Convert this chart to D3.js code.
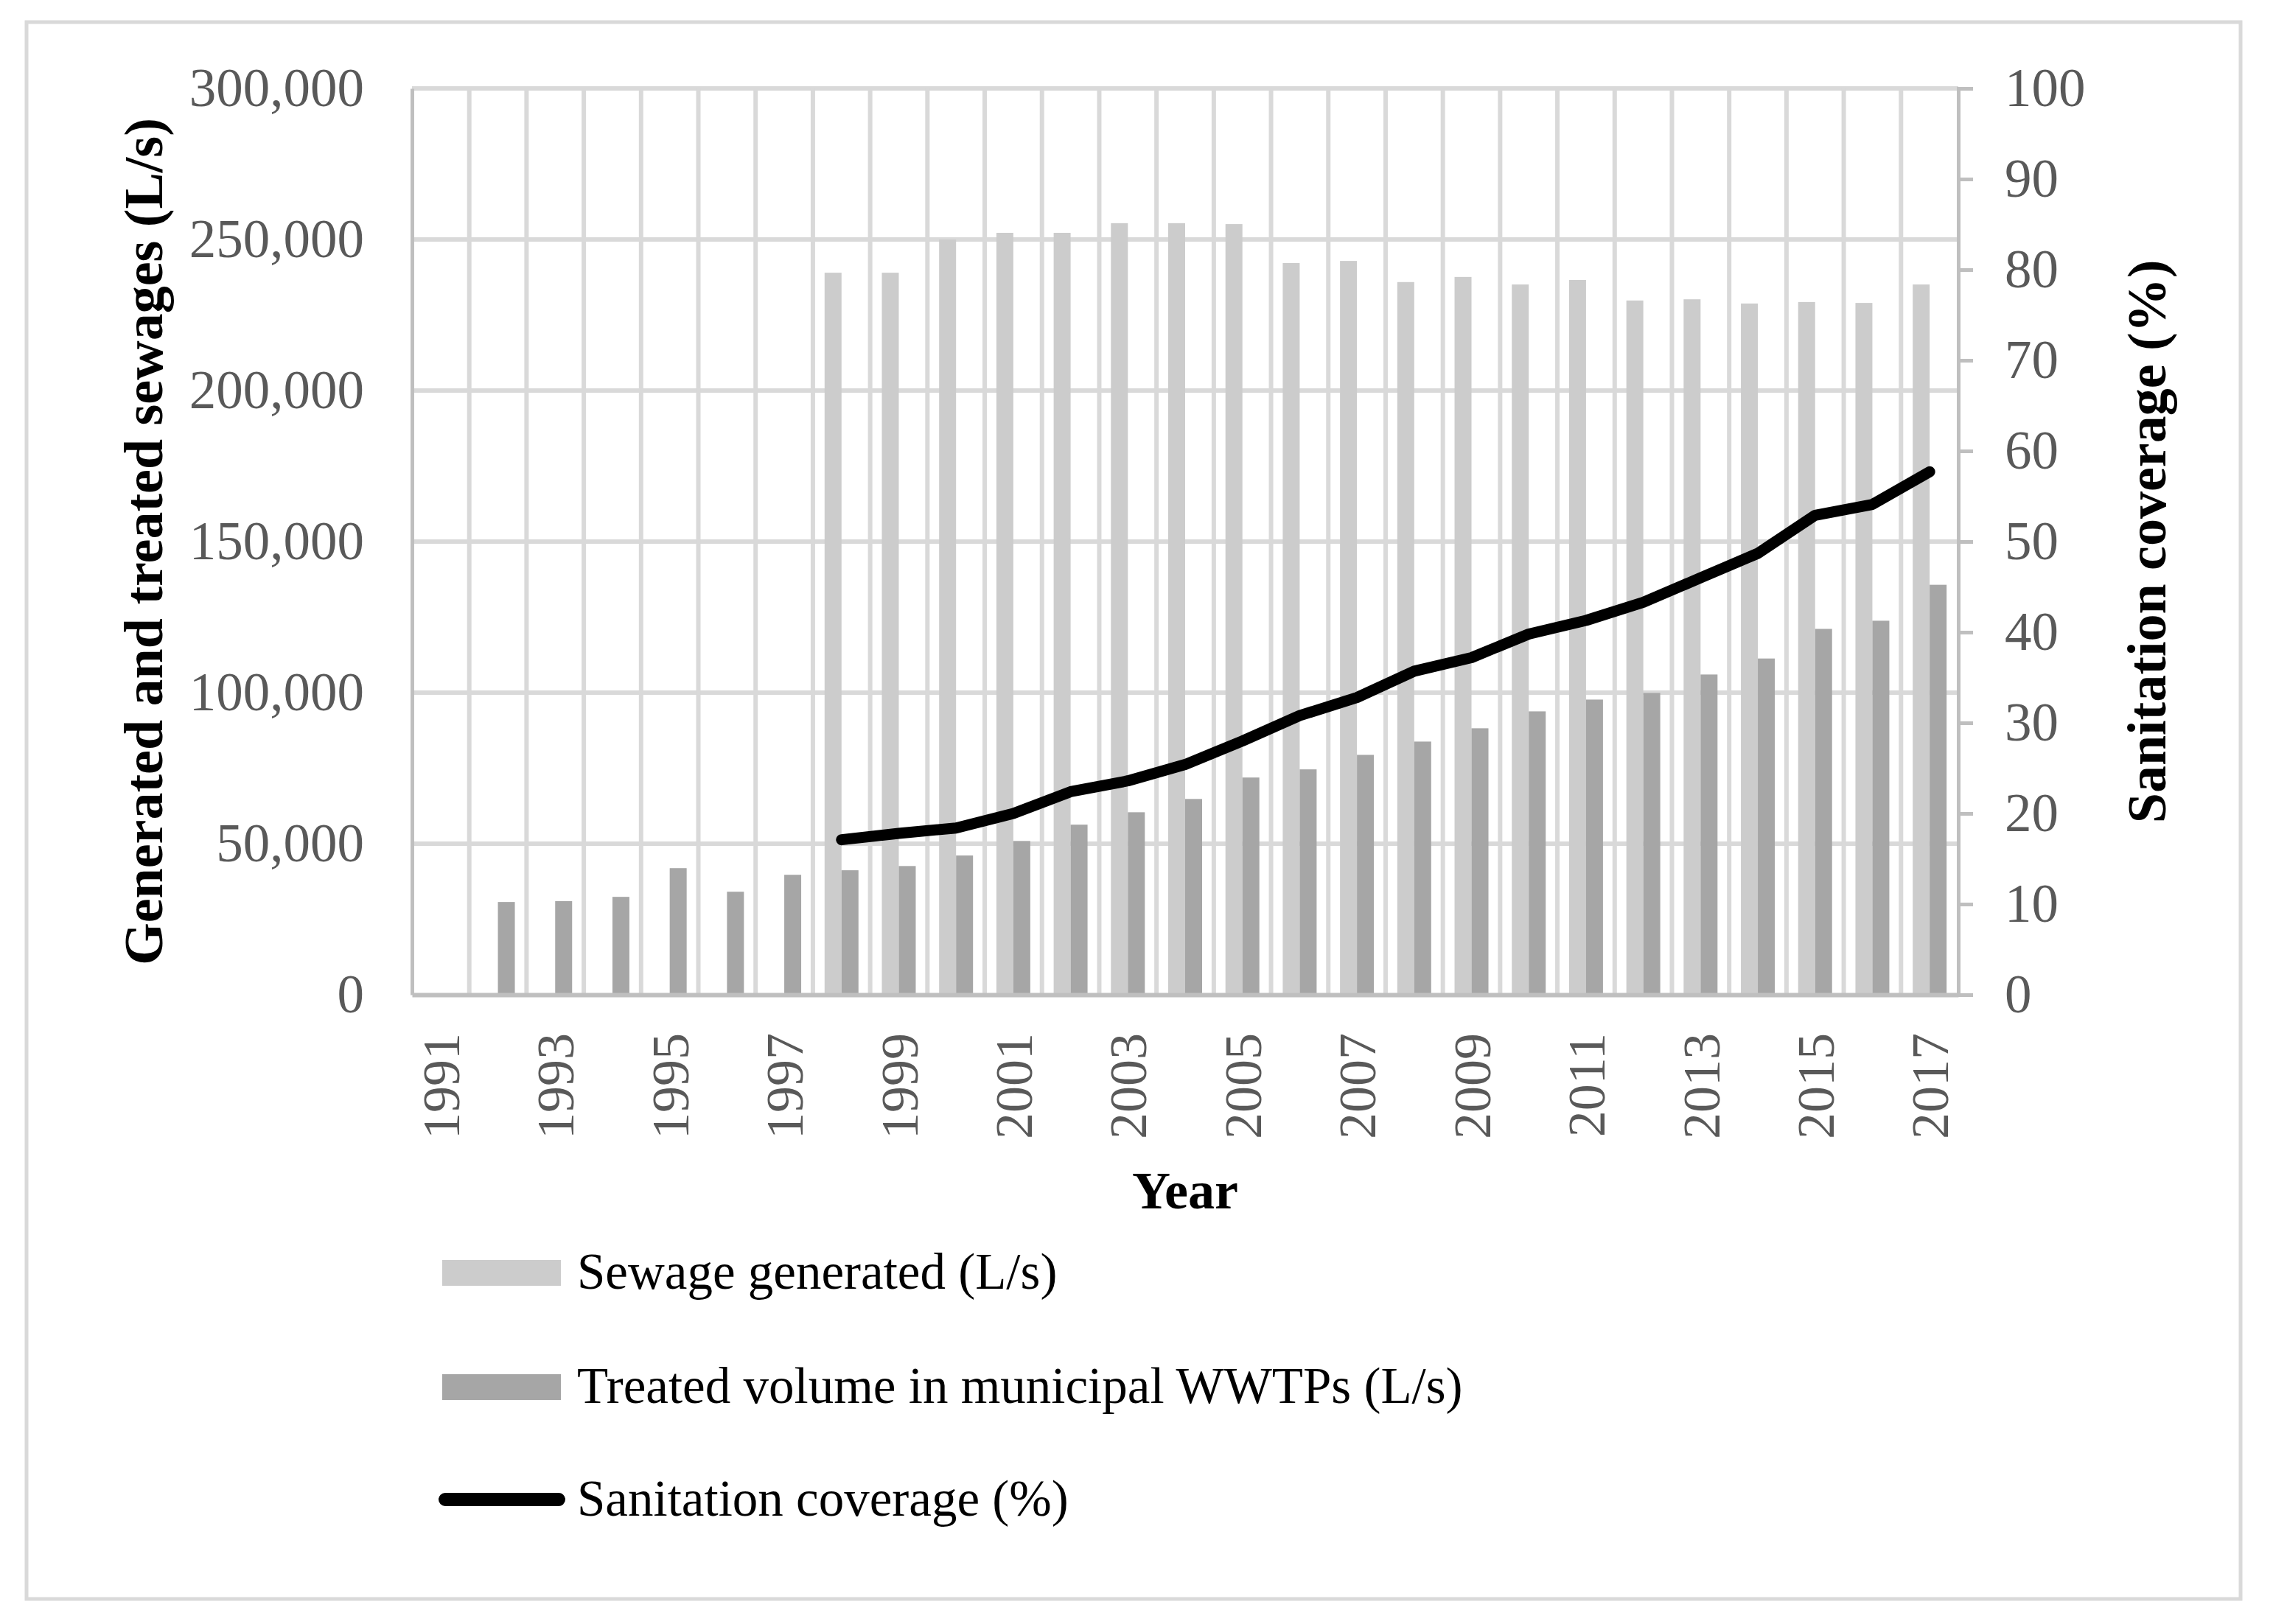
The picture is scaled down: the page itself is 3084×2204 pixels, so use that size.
<!DOCTYPE html>
<html>
<head>
<meta charset="utf-8">
<script src="https://cdn.jsdelivr.net/npm/d3@7"></script>
<style>
  body { margin: 0; background: #fff; }
  svg { display: block; }
  text { font-family: "Liberation Serif", "Times New Roman", serif; }
</style>
</head>
<body>
<div id="chart"></div>
<script>
// data
const years = ['1991', '1992', '1993', '1994', '1995', '1996', '1997', '1998', '1999', '2000',
  '2001', '2002', '2003', '2004', '2005', '2006', '2007', '2008', '2009', '2010',
  '2011', '2012', '2013', '2014', '2015', '2016', '2017'];
const sewageGenerated = [null, null, null, null, null, null, null, 239000, 239000, 250000,
  252200, 252200, 255400, 255400, 255100, 242200, 242900, 235900, 237600, 235100,
  236600, 229800, 230200, 228800, 229300, 229000, 235100];
const treatedVolume = [null, 30700, 31000, 32400, 41900, 34100, 39700, 41200, 42600, 46100,
  50900, 56300, 60400, 64800, 71900, 74600, 79400, 83800, 88200, 93800,
  97700, 99900, 106000, 111300, 121100, 123800, 135700];
const sanitationCoverage = [null, null, null, null, null, null, null, 17.1, 17.8, 18.4,
  20.0, 22.4, 23.6, 25.4, 28.0, 30.8, 32.8, 35.7, 37.2, 39.8,
  41.3, 43.3, 46.0, 48.7, 52.9, 54.1, 57.7];
const leftTicks = [0, 50000, 100000, 150000, 200000, 250000, 300000];
const rightTicks = [0, 10, 20, 30, 40, 50, 60, 70, 80, 90, 100];
const yearLabels = ['1991', '1993', '1995', '1997', '1999', '2001', '2003', '2005', '2007',
  '2009', '2011', '2013', '2015', '2017'];
const seriesNames = ['Sewage generated (L/s)', 'Treated volume in municipal WWTPs (L/s)', 'Sanitation coverage (%)'];

const width = 3084;
const height = 2204;
const plot = { left: 559, right: 2657, top: 120, bottom: 1350 };
const gridColor = '#d9d9d9';
const axisColor = '#bfbfbf';
const labelColor = '#595959';
const barColors = ['#cccccc', '#a6a6a6'];

const svg = d3.select('#chart')
  .append('svg')
  .attr('width', width)
  .attr('height', height);

// outer frame
svg.append('rect')
  .attr('x', 36).attr('y', 30)
  .attr('width', 3004).attr('height', 2140)
  .attr('fill', '#fff')
  .attr('stroke', gridColor)
  .attr('stroke-width', 5);

const x = d3.scaleBand()
  .domain(years)
  .range([plot.left, plot.right])
  .padding(0);
const inner = d3.scaleBand()
  .domain(['gen', 'treated'])
  .range([0, x.bandwidth()])
  .paddingInner(0)
  .paddingOuter(0.69);
const y = d3.scaleLinear()
  .domain([0, 300000])
  .range([plot.bottom, plot.top]);
const y2 = d3.scaleLinear()
  .domain([0, 100])
  .range([plot.bottom, plot.top]);

// gridlines
svg.append('g')
  .selectAll('line')
  .data(leftTicks.filter(d => d > 0))
  .enter()
  .append('line')
  .attr('x1', plot.left).attr('x2', plot.right)
  .attr('y1', d => y(d)).attr('y2', d => y(d))
  .attr('stroke', gridColor)
  .attr('stroke-width', 6);
svg.append('g')
  .selectAll('line')
  .data(years.slice(1))
  .enter()
  .append('line')
  .attr('x1', d => x(d)).attr('x2', d => x(d))
  .attr('y1', plot.top).attr('y2', plot.bottom)
  .attr('stroke', gridColor)
  .attr('stroke-width', 6);

// bars
const bars = svg.append('g');
bars.selectAll('.gen')
  .data(years.map((yr, i) => ({ yr, v: sewageGenerated[i] })).filter(d => d.v != null))
  .enter()
  .append('rect')
  .classed('gen', true)
  .attr('x', d => x(d.yr) + inner('gen'))
  .attr('width', inner.bandwidth())
  .attr('y', d => y(d.v))
  .attr('height', d => plot.bottom - y(d.v))
  .attr('fill', barColors[0]);
bars.selectAll('.treated')
  .data(years.map((yr, i) => ({ yr, v: treatedVolume[i] })).filter(d => d.v != null))
  .enter()
  .append('rect')
  .classed('treated', true)
  .attr('x', d => x(d.yr) + inner('treated'))
  .attr('width', inner.bandwidth())
  .attr('y', d => y(d.v))
  .attr('height', d => plot.bottom - y(d.v))
  .attr('fill', barColors[1]);

// left axis
const leftAxis = svg.append('g')
  .attr('transform', `translate(${plot.left},0)`)
  .call(d3.axisLeft(y).tickValues(leftTicks).tickSize(0).tickPadding(65).tickFormat(d3.format(',')));
leftAxis.select('.domain').attr('stroke', axisColor).attr('stroke-width', 5);
leftAxis.selectAll('text')
  .attr('fill', labelColor)
  .style('font-size', '73px');

// right axis
const rightAxis = svg.append('g')
  .attr('transform', `translate(${plot.right},0)`)
  .call(d3.axisRight(y2).tickValues(rightTicks).tickSize(20).tickPadding(43));
rightAxis.select('.domain').attr('stroke', axisColor).attr('stroke-width', 5);
rightAxis.selectAll('line').attr('stroke', axisColor).attr('stroke-width', 5);
rightAxis.selectAll('text')
  .attr('fill', labelColor)
  .style('font-size', '73px');

// bottom axis
const bottomAxis = svg.append('g')
  .attr('transform', `translate(0,${plot.bottom})`)
  .call(d3.axisBottom(x).tickValues(yearLabels).tickSize(0).tickSizeOuter(0));
bottomAxis.select('.domain').attr('stroke', axisColor).attr('stroke-width', 6);
bottomAxis.selectAll('text')
  .attr('transform', 'rotate(-90)')
  .attr('x', -52)
  .attr('y', 0)
  .attr('dy', '0.35em')
  .attr('text-anchor', 'end')
  .attr('fill', labelColor)
  .style('font-size', '72px');

// coverage line
const line = d3.line()
  .defined(d => d != null)
  .x((d, i) => x(years[i]) + x.bandwidth() / 2)
  .y(d => y2(d));
svg.append('path')
  .datum(sanitationCoverage)
  .attr('d', line)
  .attr('fill', 'none')
  .attr('stroke', '#000')
  .attr('stroke-width', 15)
  .attr('stroke-linejoin', 'round')
  .attr('stroke-linecap', 'round');

// axis titles
svg.append('text')
  .attr('transform', `translate(194,${(plot.top + plot.bottom) / 2}) rotate(-90)`)
  .attr('dy', '0.35em')
  .attr('text-anchor', 'middle')
  .style('font-size', '74px')
  .style('font-weight', 'bold')
  .text('Generated and treated sewages (L/s)');
svg.append('text')
  .attr('transform', `translate(2912,${(plot.top + plot.bottom) / 2}) rotate(-90)`)
  .attr('dy', '0.35em')
  .attr('text-anchor', 'middle')
  .style('font-size', '74px')
  .style('font-weight', 'bold')
  .text('Sanitation coverage (%)');
svg.append('text')
  .attr('x', (plot.left + plot.right) / 2)
  .attr('y', 1640)
  .attr('text-anchor', 'middle')
  .style('font-size', '72px')
  .style('font-weight', 'bold')
  .text('Year');

// legend
const legendY = [1727, 1882, 2035];
const legend = svg.append('g');
legend.selectAll('rect')
  .data(barColors)
  .enter()
  .append('rect')
  .attr('x', 600)
  .attr('y', (d, i) => legendY[i] - 17)
  .attr('width', 161)
  .attr('height', 35)
  .attr('fill', d => d);
legend.append('line')
  .attr('x1', 604).attr('x2', 758)
  .attr('y1', legendY[2]).attr('y2', legendY[2])
  .attr('stroke', '#000')
  .attr('stroke-width', 18)
  .attr('stroke-linecap', 'round');
legend.selectAll('text')
  .data(seriesNames)
  .enter()
  .append('text')
  .attr('x', 783)
  .attr('y', (d, i) => legendY[i])
  .attr('dy', '0.32em')
  .style('font-size', '69px')
  .attr('fill', '#000')
  .text(d => d);
</script>
</body>
</html>
